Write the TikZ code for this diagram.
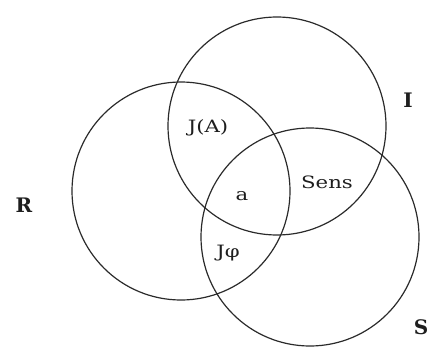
\documentclass[tikz,border=0pt]{standalone}
\usepackage{fontspec}
\setmainfont{DejaVu Serif}
\newfontfamily\partfont[FakeStretch=1.25]{DejaVu Serif}
\usepackage{tikz}
\usetikzlibrary{positioning}
\definecolor{cline}{HTML}{2A2A2A}
\definecolor{ctext}{HTML}{1E1E1E}

\begin{document}
\begin{tikzpicture}[
    x=1pt, y=1pt,
    setc/.style={draw=cline, line width=1.2pt, circle, minimum size=218pt, inner sep=0pt},
    part/.style={text=ctext, font=\partfont\fontsize{17}{19}\selectfont, inner sep=1pt},
    setname/.style={text=ctext, font=\fontsize{20}{22}\selectfont\bfseries, inner sep=1pt}
]
\useasboundingbox (0,0) rectangle (430,346);

% the three sets
\node[setc] (cR) at (181,155) {};
\node[setc] (cI) at (277,220) {};
\node[setc] (cS) at (310,109) {};

% names of the sets
\node[setname] (nR) at (24,141) {R};
\node[setname] (nI) at (408,246) {I};
\node[setname] (nS) at (421,19) {S};

% parts
\node[part] (pJA) at (208,218) {J(A)};
\node[part] (pa) at (242,150) {a};
\node[part] (psens) at (327,164) {Sens};
\node[part] (pJphi) at (228,93) {Jφ};
\end{tikzpicture}
\end{document}
